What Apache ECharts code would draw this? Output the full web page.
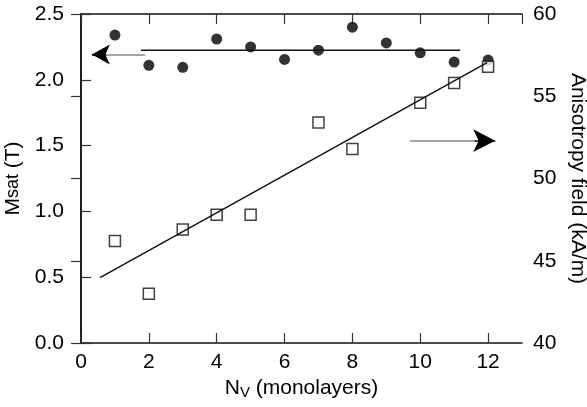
<!DOCTYPE html>
<html><head><meta charset="utf-8">
<script src="https://cdn.jsdelivr.net/npm/echarts@6/dist/echarts.min.js"></script>
<style>html,body{margin:0;padding:0;background:#fff}#c{width:587px;height:407px}</style>
</head><body><div id="c"></div>
<script>
// Data
const nv = [1,2,3,4,5,6,7,8,9,10,11,12];
const msat = [2.34,2.11,2.095,2.31,2.25,2.155,2.225,2.40,2.28,2.205,2.135,2.15];
const nvAniso = [1,2,3,4,5,7,8,10,11,12];
const aniso = [46.2,43.0,46.9,47.8,47.8,53.4,51.8,54.6,55.8,56.8];
const msatLineX = [1.77, 11.18];
const msatLineY = [2.224, 2.224];
const fitLineX = [0.56, 11.97];
const fitLineY = [43.97, 57.04];
const leftArrow = {from:[1.89, 2.193], head:[0.75, 2.193], to:[0.32, 2.193]};
const rightArrow = {from:[9.7, 52.3], head:[11.6, 52.3], to:[12.21, 52.3]};
const xTicks = [0,2,4,6,8,10,12];
const leftTicks = [0,0.5,1.0,1.5,2.0,2.5];
const rightTicks = [40,45,50,55,60];

const FONT = 'Liberation Sans';
const FS = 21;
const axisCommon = {
  axisLine:{show:true,lineStyle:{color:'#111',width:1.5}},
  axisTick:{show:true,inside:true,length:10,lineStyle:{color:'#333',width:1.2}},
  splitLine:{show:false},
  axisLabel:{color:'#000',fontFamily:FONT,fontSize:FS}
};
function arrowData(a){
  return [
    [{coord:a.from,symbol:'none',lineStyle:{color:'#888',width:1.5}},{coord:a.head,symbol:'none'}],
    [{coord:a.head,symbol:'none',lineStyle:{color:'#000',width:1.5}},{coord:a.to,symbol:'arrow'}]
  ];
}
const chart = echarts.init(document.getElementById('c'),null,{renderer:'canvas'});
chart.setOption({
  animation:false,
  backgroundColor:'#fff',
  grid:{left:81,right:65,top:14,bottom:64,containLabel:false,outerBoundsMode:'none'},
  xAxis:[
    Object.assign({},axisCommon,{type:'value',position:'bottom',min:0,max:13,interval:2,
      axisLabel:Object.assign({},axisCommon.axisLabel,{margin:9,showMaxLabel:false,
        formatter:v=>xTicks.indexOf(v)>=0?String(v):''}),
      name:'N{s|V} (monolayers)',nameLocation:'middle',nameGap:27,
      nameTextStyle:{color:'#000',fontFamily:FONT,fontSize:FS,
        rich:{s:{fontFamily:FONT,fontSize:15,color:'#000',padding:[8,0,0,0]}}}}),
    Object.assign({},axisCommon,{type:'value',position:'top',min:0,max:13,interval:2,
      axisLabel:{show:false}})
  ],
  yAxis:[
    Object.assign({},axisCommon,{type:'value',position:'left',min:0,max:2.5,interval:0.5,
      axisLabel:Object.assign({},axisCommon.axisLabel,{margin:17,
        formatter:v=>leftTicks.indexOf(+v.toFixed(1))>=0?v.toFixed(1):''}),
      name:'M{s|sat} (T)',nameLocation:'middle',nameGap:48,nameRotate:90,
      nameTextStyle:{color:'#000',fontFamily:FONT,fontSize:FS,
        rich:{s:{fontFamily:FONT,fontSize:18,color:'#000'}}}}),
    Object.assign({},axisCommon,{type:'value',position:'right',min:40,max:60,interval:5,
      axisLabel:Object.assign({},axisCommon.axisLabel,{margin:11,
        formatter:v=>rightTicks.indexOf(v)>=0?String(v):''}),
      name:'Anisotropy field (kA/m)',nameLocation:'middle',nameGap:44,nameRotate:-90,
      nameTextStyle:{color:'#000',fontFamily:FONT,fontSize:FS}})
  ],
  series:[
    {type:'line',xAxisIndex:0,yAxisIndex:0,symbol:'none',silent:true,
     data:msatLineX.map((x,i)=>[x,msatLineY[i]]),lineStyle:{color:'#111',width:1.5},
     markLine:{silent:true,symbolSize:[15,18],label:{show:false},
       lineStyle:{type:'solid'},data:arrowData(leftArrow)}},
    {type:'scatter',xAxisIndex:0,yAxisIndex:0,symbol:'circle',symbolSize:11,
     itemStyle:{color:'#000'},data:nv.map((x,i)=>[x,msat[i]])},
    {type:'line',xAxisIndex:0,yAxisIndex:1,symbol:'none',silent:true,
     data:fitLineX.map((x,i)=>[x,fitLineY[i]]),lineStyle:{color:'#111',width:1.5},
     markLine:{silent:true,symbolSize:[17,22],label:{show:false},
       lineStyle:{type:'solid'},data:arrowData(rightArrow)}},
    {type:'scatter',xAxisIndex:0,yAxisIndex:1,symbol:'rect',symbolSize:11,
     itemStyle:{color:'#fff',borderColor:'#111',borderWidth:1.5},
     data:nvAniso.map((x,i)=>[x,aniso[i]])}
  ]
});
</script></body></html>
